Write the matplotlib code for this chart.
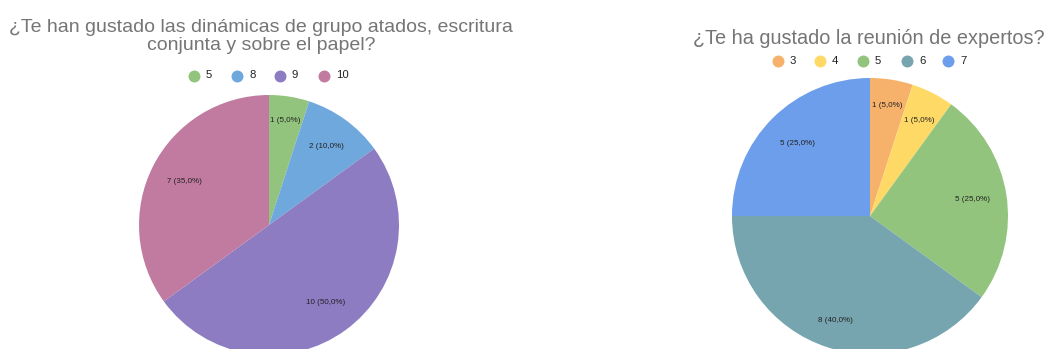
import matplotlib
matplotlib.use("Agg")
import matplotlib.pyplot as plt
import numpy as np

# Data
left_title_lines = ["¿Te han gustado las dinámicas de grupo atados, escritura",
                    "conjunta y sobre el papel?"]
left_categories = ["5", "8", "9", "10"]
left_counts = [1, 2, 10, 7]
left_colors = ["#93c47d", "#6fa8dc", "#8e7cc3", "#c27ba0"]

right_title = "¿Te ha gustado la reunión de expertos?"
right_categories = ["3", "4", "5", "6", "7"]
right_counts = [1, 1, 5, 8, 5]
right_colors = ["#f6b26b", "#ffd966", "#93c47d", "#76a5af", "#6d9eeb"]

W, H = 1046, 349
fig = plt.figure(figsize=(W / 100, H / 100), dpi=100)
ax = fig.add_axes([0, 0, 1, 1])

FONT = "Liberation Sans"
TITLE_C = "#757575"
TEXT_C = "#222222"


def fmt(v, total):
    return f"{v} ({100.0 * v / total:.1f}%)".replace(".", ",")


def draw_pie(cx, cy, r, counts, colors, dists):
    y = H - cy
    ax.pie(counts, colors=colors, startangle=90, counterclock=False,
           center=(cx, y), radius=r, wedgeprops=dict(linewidth=0))
    total = sum(counts)
    cum = 0
    for v, d in zip(counts, dists):
        mid = (cum + v / 2) / total * 360.0
        cum += v
        ang = np.deg2rad(90 - mid)
        ax.text(cx + d * r * np.cos(ang), y + d * r * np.sin(ang), fmt(v, total),
                ha="center", va="center", fontsize=5.8, color=TEXT_C, family=FONT)


def draw_legend(xs, y, cats, colors):
    for x, c, col in zip(xs, cats, colors):
        ax.plot([x], [H - y], marker="o", markersize=8.6, color=col, markeredgewidth=0)
        ax.text(x + 12, H - y, c, ha="left", va="center", fontsize=8.2, color=TEXT_C, family=FONT)


# Left chart
draw_pie(269, 225, 130, left_counts, left_colors, [0.81, 0.75, 0.74, 0.73])
for line, base in zip(left_title_lines, [32, 50]):
    ax.text(261, H - base, line, ha="center", va="baseline", fontsize=14.0,
            color=TITLE_C, family=FONT)
draw_legend([194, 237, 280, 324], 75.5, left_categories, left_colors)

# Right chart
draw_pie(870, 216, 138, right_counts, right_colors, [0.81, 0.78, 0.75, 0.8, 0.74])
ax.text(868.5, H - 44, right_title, ha="center", va="baseline", fontsize=14.3,
        color=TITLE_C, family=FONT)
draw_legend([778, 820, 863, 907, 948], 61, right_categories, right_colors)

ax.set_xlim(0, W)
ax.set_ylim(0, H)
ax.set_aspect("auto")
ax.axis("off")

fig.savefig("out.png", dpi=100)
